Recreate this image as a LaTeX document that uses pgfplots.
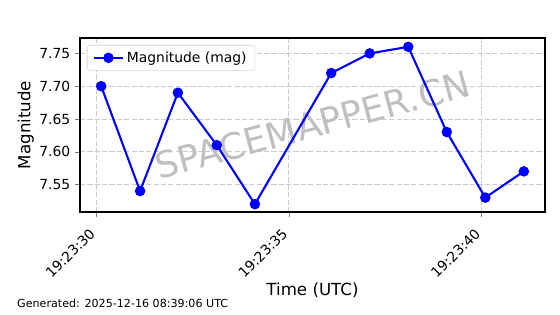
\documentclass[border=0pt]{standalone}
\usepackage{pgfplots}
\pgfplotsset{compat=1.18}
\usepackage{fontspec}
\setmainfont{DejaVu Sans}
\begin{document}
\begin{tikzpicture}
\path[use as bounding box] (0,0) rectangle (403.2pt,226.08pt);
\begin{axis}[
  at={(57.6pt,73.44pt)}, anchor=south west,
  scale only axis, width=334.8pt, height=125.28pt,
  xmin=-0.42, xmax=11.65, ymin=7.508, ymax=7.7735,
  xtick={0,5,10},
  xticklabels={19:23:30,19:23:35,19:23:40},
  ytick={7.55,7.60,7.65,7.70,7.75},
  yticklabel style={/pgf/number format/fixed,/pgf/number format/fixed zerofill,/pgf/number format/precision=2},
  /pgf/number format/assume math mode=true,
  tick label style={font=\fontsize{10}{12}\selectfont},
  xticklabel style={xshift=-5.5pt, yshift=-6pt, rotate=45, anchor=north east, inner sep=1pt},
  tick align=outside, major tick length=3.5pt,
  xtick pos=bottom, ytick pos=left,
  axis line style={line width=0.8pt},
  grid=major,
  major grid style={gray!40, dash pattern=on 3.7pt off 1.6pt, line width=0.6pt},
  xlabel={Time (UTC)}, ylabel={Magnitude},
  label style={font=\fontsize{12}{14}\selectfont},
  xlabel style={yshift=2pt},
  ylabel style={yshift=-3pt},
  legend style={at={(0.015,0.96)}, anchor=north west, rounded corners=2pt, draw=gray!35, font=\fontsize{10}{12}\selectfont, inner xsep=4pt, inner ysep=2.5pt},
  legend cell align=left,
  legend image code/.code={\draw[#1, mark repeat=2, mark phase=2] plot coordinates {(0cm,0cm) (0.37cm,0cm) (0.74cm,0cm)};},
]
\node[rotate=15, text=gray!50, font=\fontsize{26}{30}\selectfont] at (rel axis cs:0.5,0.5) {SPACEMAPPER.CN};
\addplot[color=blue, line width=1.5pt, mark=*, mark size=3pt, mark options={fill=blue}] coordinates {
(0.13,7.70) (1.14,7.54) (2.12,7.69) (3.13,7.61) (4.12,7.52) (6.10,7.72) (7.10,7.75) (8.10,7.76) (9.10,7.63) (10.10,7.53) (11.10,7.57)
};
\addlegendentry{Magnitude (mag)}
\node[anchor=south, font=\fontsize{14}{16}\selectfont] at (rel axis cs:0.5,1) [yshift=4pt] {Magnitude vs Time};
\end{axis}
\node[anchor=base west, font=\fontsize{8}{10}\selectfont, inner sep=0pt] at (12.2pt,4.5pt) {Generated: 2025-12-16 08:39:06 UTC};
\end{tikzpicture}
\end{document}
